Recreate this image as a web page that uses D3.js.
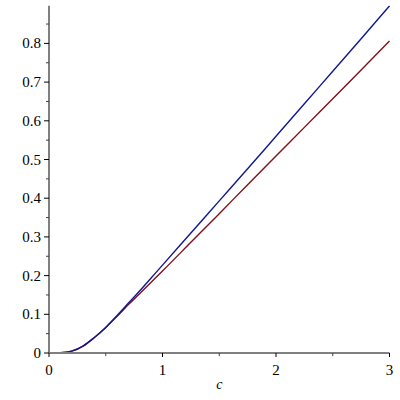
<!DOCTYPE html>
<html>
<head>
<meta charset="utf-8">
<script src="https://d3js.org/d3.v7.min.js"></script>
<style>
    body { margin: 0; background: #ffffff; }
</style>
</head>
<body>
<div id="container"></div>
<script>
    // values
    const cValues = [0, 0.1, 0.2, 0.3, 0.4, 0.5, 0.6, 0.7, 0.8, 0.9, 1.0, 1.25, 1.5, 1.75, 2.0, 2.25, 2.5, 2.75, 3.0];
    const blueValues = [0, 0.0008, 0.005, 0.018, 0.040, 0.066, 0.097, 0.129, 0.161, 0.194, 0.227, 0.310, 0.393, 0.476, 0.560, 0.644, 0.728, 0.812, 0.897];
    const redValues = [0, 0.0008, 0.005, 0.018, 0.040, 0.066, 0.095, 0.125, 0.154, 0.183, 0.212, 0.286, 0.360, 0.435, 0.509, 0.583, 0.657, 0.731, 0.806];
    const xTicks = [0, 1, 2, 3];
    const xMinorTicks = [0.5, 1.5, 2.5];
    const yTicks = [0, 0.1, 0.2, 0.3, 0.4, 0.5, 0.6, 0.7, 0.8];
    const yMinorTicks = [0.05, 0.15, 0.25, 0.35, 0.45, 0.55, 0.65, 0.75, 0.85];

    const width = 400, height = 400;

    const svg = d3.select("#container")
        .append("svg")
        .attr("width", width)
        .attr("height", height)
        .attr("font-family", "Liberation Serif");

    // scales
    const x = d3.scaleLinear().domain([0, 3]).range([49, 389.5]);
    const y = d3.scaleLinear().domain([0, 0.8]).range([353, 43.4]);
    const yTop = 0.897;

    const blueData = cValues.map((c, i) => ({c: c, v: blueValues[i]}));
    const redData = cValues.map((c, i) => ({c: c, v: redValues[i]}));

    const line = d3.line()
        .x(d => x(d.c))
        .y(d => y(d.v))
        .curve(d3.curveMonotoneX);

    // curves
    svg.append("path")
        .datum(redData)
        .attr("d", line)
        .attr("fill", "none")
        .attr("stroke", "#80101a")
        .attr("stroke-width", 1.4);

    svg.append("path")
        .datum(blueData)
        .attr("d", line)
        .attr("fill", "none")
        .attr("stroke", "#101890")
        .attr("stroke-width", 1.4);

    // axis lines
    svg.append("line")
        .attr("x1", x(0)).attr("x2", x(0))
        .attr("y1", y(0)).attr("y2", y(yTop))
        .attr("stroke", "#808080").attr("stroke-width", 2);
    svg.append("line")
        .attr("x1", x(0)).attr("x2", x(3))
        .attr("y1", y(0)).attr("y2", y(0))
        .attr("stroke", "#808080").attr("stroke-width", 2);

    // y ticks
    svg.selectAll(".ytick")
        .data(yTicks)
        .enter()
        .append("line")
        .attr("x1", x(0) - 5).attr("x2", x(0))
        .attr("y1", d => y(d)).attr("y2", d => y(d))
        .attr("stroke", "#000000").attr("stroke-width", 1);
    svg.selectAll(".yminor")
        .data(yMinorTicks)
        .enter()
        .append("line")
        .attr("x1", x(0) - 3).attr("x2", x(0))
        .attr("y1", d => y(d)).attr("y2", d => y(d))
        .attr("stroke", "#404040").attr("stroke-width", 1);
    svg.selectAll(".ylabel")
        .data(yTicks)
        .enter()
        .append("text")
        .attr("x", x(0) - 8)
        .attr("y", d => y(d) + 5)
        .attr("text-anchor", "end")
        .attr("font-size", 15)
        .text(d => d === 0 ? "0" : d3.format(".1f")(d));

    // x ticks
    svg.selectAll(".xtick")
        .data(xTicks)
        .enter()
        .append("line")
        .attr("x1", d => x(d)).attr("x2", d => x(d))
        .attr("y1", y(0)).attr("y2", y(0) + 4)
        .attr("stroke", "#000000").attr("stroke-width", 1);
    svg.selectAll(".xminor")
        .data(xMinorTicks)
        .enter()
        .append("line")
        .attr("x1", d => x(d)).attr("x2", d => x(d))
        .attr("y1", y(0)).attr("y2", y(0) + 3)
        .attr("stroke", "#404040").attr("stroke-width", 1);
    svg.selectAll(".xlabel")
        .data(xTicks)
        .enter()
        .append("text")
        .attr("x", d => x(d))
        .attr("y", 375)
        .attr("text-anchor", "middle")
        .attr("font-size", 15)
        .text(d => d);

    svg.append("text")
        .attr("x", (x(0) + x(3)) / 2)
        .attr("y", 389)
        .attr("text-anchor", "middle")
        .attr("font-size", 14)
        .attr("font-style", "italic")
        .text("c");
</script>
</body>
</html>
